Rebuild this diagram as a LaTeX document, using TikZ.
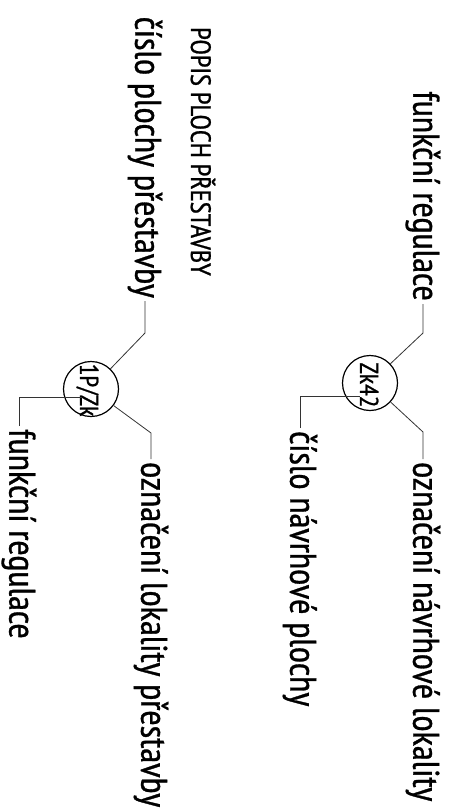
\documentclass[tikz,border=0pt]{standalone}
\usepackage{fontspec}
\setmainfont{PT Sans Narrow}[FakeBold=0.8]
\usepackage{tikz}

\tikzset{
  lbl/.style={rotate=-90, inner sep=3pt, font=\fontsize{37}{42}\selectfont},
  heading/.style={rotate=-90, inner sep=0pt, font=\fontsize{28}{32}\selectfont},
  ring/.style={draw, circle, minimum size=55pt, inner sep=0pt, line width=1.2pt},
  tag/.style={rotate=-90, inner sep=0pt, font=\fontsize{26}{30}\selectfont},
  leader/.style={line width=0.8pt, draw=black!80}
}

\begin{document}
\begin{tikzpicture}[x=1pt, y=-1pt]
    \useasboundingbox (0,0) rectangle (452,811);

    % Proposed area
    \node[ring] (zk) at (370,383) {};
    \node[tag, anchor=base] (zktxt) at (360,385) {Zk42};
    \node[lbl, anchor=east] (zkfr) at (423,304) {funkční regulace};
    \node[lbl, anchor=west] (zkloc) at (423,459) {označení návrhové lokality};
    \node[lbl, anchor=west] (zknum) at (300,428) {číslo návrhové plochy};
    \coordinate (zkfoot) at (360,396);

    % Rebuilt area
    \node[heading, anchor=base west] (head) at (191,27) {POPIS PLOCH PŘESTAVBY};
    \node[ring] (pz) at (91,389) {};
    \node[tag, anchor=base] (pztxt) at (80,390) {1P/Zk};
    \node[lbl, anchor=east] (pznum) at (145,301) {číslo plochy přestavby};
    \node[lbl, anchor=west] (pzloc) at (151,459) {označení lokality přestavby};
    \node[lbl, anchor=west] (pzfr) at (19,426) {funkční regulace};
    \coordinate (pzfoot) at (82,397);

    % Leaders
    \draw[leader] (zkfr.east) -- ++(0,29) -- (zk);
    \draw[leader] (zkloc.west) -- ++(0,-27) -- (zk);
    \draw[leader] (zknum.west) |- (zkfoot);
    \draw[leader] (pznum.east) -- ++(0,32) -- (pz);
    \draw[leader] (pzloc.west) -- ++(0,-26) -- (pz);
    \draw[leader] (pzfr.west) |- (pzfoot);
\end{tikzpicture}
\end{document}
